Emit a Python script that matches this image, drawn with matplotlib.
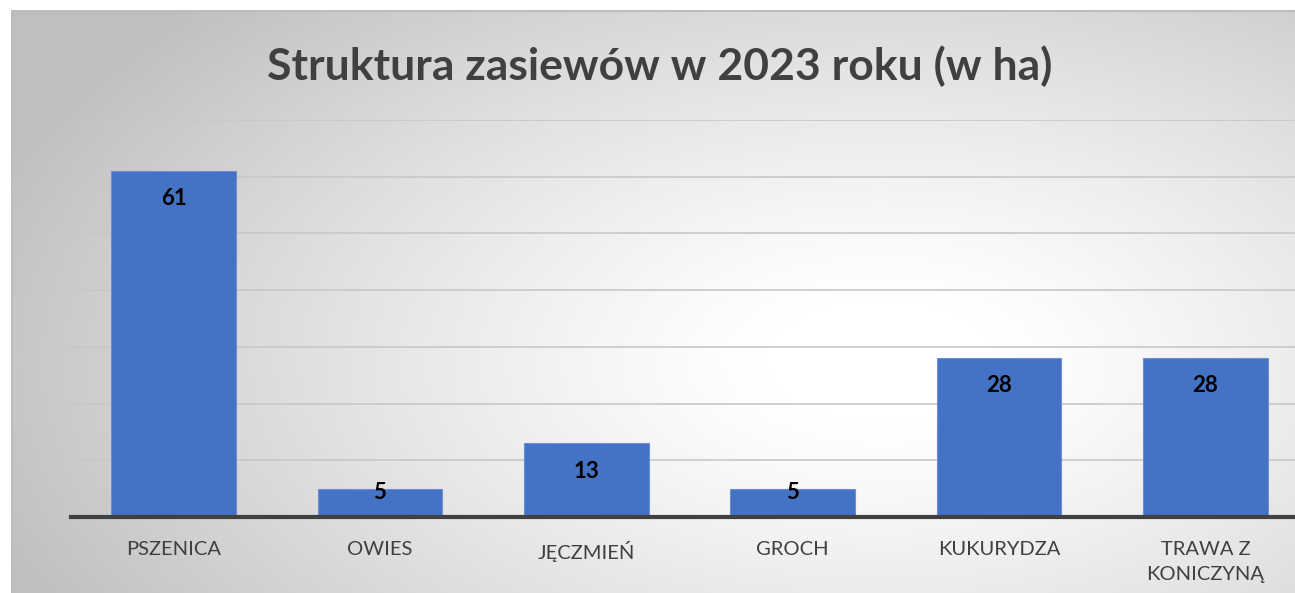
import matplotlib.pyplot as plt
import numpy as np
from matplotlib.patches import Rectangle

categories = ['PSZENICA', 'OWIES', 'JĘCZMIEŃ', 'GROCH', 'KUKURYDZA', 'TRAWA Z\nKONICZYNĄ']
values = [61, 5, 13, 5, 28, 28]
title = 'Struktura zasiewów w 2023 roku (w ha)'

W, H = 1295, 593
fig = plt.figure(figsize=(W / 100, H / 100), dpi=100)
fig.patch.set_facecolor('white')

# background with radial gradient, chart frame starts at (11, 10) px
bg = fig.add_axes([11 / W, 0, 1 - 11 / W, 1 - 10 / H])
bg.set_xlim(11, W)
bg.set_ylim(H, 10)
xx, yy = np.meshgrid(np.arange(11, W), np.arange(10, H))
r = np.sqrt(((xx - 880) / 950.0) ** 2 + ((yy - 360) / 520.0) ** 2)
shade = 1.0 - 0.25 * np.clip((r - 0.12) / 0.88, 0, 1) ** 1.2
img = np.dstack([shade, shade, shade])
bg.imshow(img, extent=(11, W, H, 10), aspect='auto', interpolation='bilinear')
bg.add_patch(Rectangle((11.5, 10.5), W + 10, H + 10, fill=False, edgecolor='#bdbdbd', lw=1.5))
bg.axis('off')

ax = fig.add_axes([70.5 / W, (H - 517) / H, (1308.5 - 70.5) / W, (517 - 120) / H])
ax.patch.set_alpha(0)
x = np.arange(len(categories))
bars = ax.bar(x, values, width=0.605, color='#4472C4', edgecolor='#6a8fd2', linewidth=0.8, zorder=3)
ax.set_xlim(-0.5, len(categories) - 0.5)
ax.set_ylim(0, 70)
ax.set_yticks(np.arange(0, 71, 10))
ax.yaxis.grid(True, color='#c8c8c8', lw=1.2, zorder=0)
ax.tick_params(axis='y', left=False, labelleft=False)
ax.tick_params(axis='x', length=0, pad=17, labelsize=14.5, labelcolor='#404040')
ax.set_xticks(x)
ax.set_xticklabels(categories, fontfamily='Lato', linespacing=1.6, va='top')
for s in ['top', 'right', 'left']:
    ax.spines[s].set_visible(False)
ax.spines['bottom'].set_color('#404040')
ax.spines['bottom'].set_linewidth(3)
ax.spines['bottom'].set_zorder(4)

for xi, v in zip(x, values):
    off = -20 if v > 10 else -3
    ax.annotate(str(v), (xi, v), xytext=(0, off), textcoords='offset points',
                ha='center', va='center', fontsize=16, fontweight='bold',
                fontfamily='Lato', color='black', zorder=5)

fig.text(660 / W, 1 - 66 / H, title, ha='center', va='center', fontsize=32,
         fontweight='bold', fontfamily='Lato', color='#404040')

fig.savefig('out.png', dpi=100)
